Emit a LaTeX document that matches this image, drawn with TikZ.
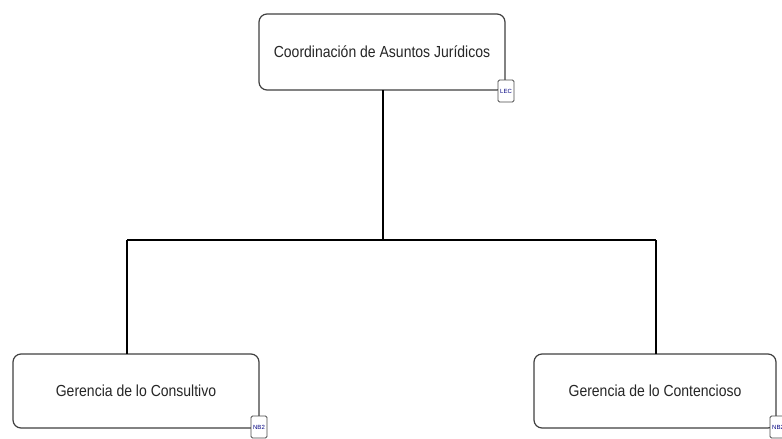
\documentclass[tikz,border=0pt]{standalone}
\usepackage{fontspec}
\setmainfont{Liberation Sans}
\begin{document}
\begin{tikzpicture}[x=1pt,y=-1pt,
  unitbox/.style={draw=black!75, line width=1.2pt, rounded corners=8pt, fill=white},
  unittext/.style={font=\fontsize{16}{18}\selectfont, text=black!85, xscale=0.875, inner sep=0pt},
  tagbox/.style={draw=black!70, line width=0.8pt, rounded corners=1.5pt, fill=white, minimum width=16pt, minimum height=22pt, inner sep=0pt, font=\fontsize{6}{7}\selectfont, text=blue!50!black},
  link/.style={draw=black, line width=1.4pt}]
\useasboundingbox (0,0) rectangle (782,439);
% boxes
\draw[unitbox] (259,14) rectangle (505,90);
\draw[unitbox] (13,354) rectangle (259,428);
\draw[unitbox] (534,354) rectangle (776,428);
\node[unittext] (top) at (382,52) {Coordinación de Asuntos Jurídicos};
\node[unittext] (left) at (136,391) {Gerencia de lo Consultivo};
\node[unittext] (right) at (655,391) {Gerencia de lo Contencioso};
\node[tagbox] (tagtop) at (506,91) {LEC};
\node[tagbox] (tagleft) at (259,427) {NB2};
\node[tagbox] (tagright) at (778,427) {NB2};
% connectors
\coordinate (topbot) at (383,90);
\coordinate (mid) at (383,240);
\coordinate (lc) at (127,240);
\coordinate (rc) at (656,240);
\coordinate (lb) at (127,354);
\coordinate (rb) at (656,354);
\draw[link] (topbot) -- (mid);
\draw[link] (lc) -- (rc);
\draw[link] (lc) -- (lb);
\draw[link] (rc) -- (rb);
\end{tikzpicture}
\end{document}
